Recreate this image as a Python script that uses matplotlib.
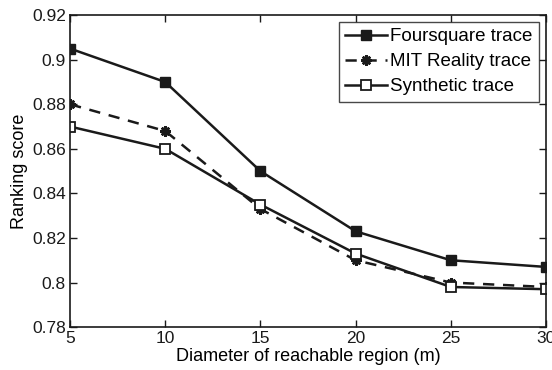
import matplotlib
matplotlib.use("Agg")
import matplotlib.pyplot as plt

plt.rcParams['font.family'] = ['Liberation Sans', 'DejaVu Sans']

x = [5, 10, 15, 20, 25, 30]
foursquare = [0.905, 0.890, 0.850, 0.823, 0.810, 0.807]
mit = [0.880, 0.868, 0.833, 0.810, 0.800, 0.798]
synthetic = [0.870, 0.860, 0.835, 0.813, 0.798, 0.797]
xticks = [5, 10, 15, 20, 25, 30]
yticks = [0.78, 0.80, 0.82, 0.84, 0.86, 0.88, 0.90, 0.92]
ylabels = ['0.78', '0.8', '0.82', '0.84', '0.86', '0.88', '0.9', '0.92']

fig = plt.figure(figsize=(5.52, 3.70), dpi=100)
ax = fig.add_axes([0.127, 0.116, 0.862, 0.843])

ax.plot(x, foursquare, '-', color='#1a1a1a', lw=1.8, marker='s', ms=7,
        mfc='#1a1a1a', mec='#1a1a1a', label='Foursquare trace')
ax.plot(x, mit, '--', color='#1a1a1a', lw=1.8, marker=(8, 2, 0), ms=7.5,
        mew=1.8, dashes=(4.5, 3.5), label='MIT Reality trace')
ax.plot(x, synthetic, '-', color='#1a1a1a', lw=1.8, marker='s', ms=6.5,
        mfc='white', mec='#1a1a1a', mew=1.3, label='Synthetic trace')

ax.set_xlim(5, 30)
ax.set_ylim(0.78, 0.92)
ax.set_xticks(xticks)
ax.set_yticks(yticks)
ax.set_yticklabels(ylabels)
ax.tick_params(direction='in', top=True, right=True, labelsize=12.5, length=5,
               width=1, colors='#1a1a1a', pad=3)
for s in ax.spines.values():
    s.set_linewidth(1.2)
    s.set_color('#1a1a1a')
ax.set_xlabel('Diameter of reachable region (m)', fontsize=13, labelpad=1)
ax.set_ylabel('Ranking score', fontsize=13, labelpad=3)

leg = ax.legend(loc='upper right', fontsize=13.5, frameon=True, fancybox=False,
                edgecolor='#1a1a1a', handlelength=2.2, borderpad=0.35,
                labelspacing=0.42, handletextpad=0.2, borderaxespad=0.35)
leg.get_frame().set_linewidth(1.0)

fig.savefig('out.png', dpi=100)
